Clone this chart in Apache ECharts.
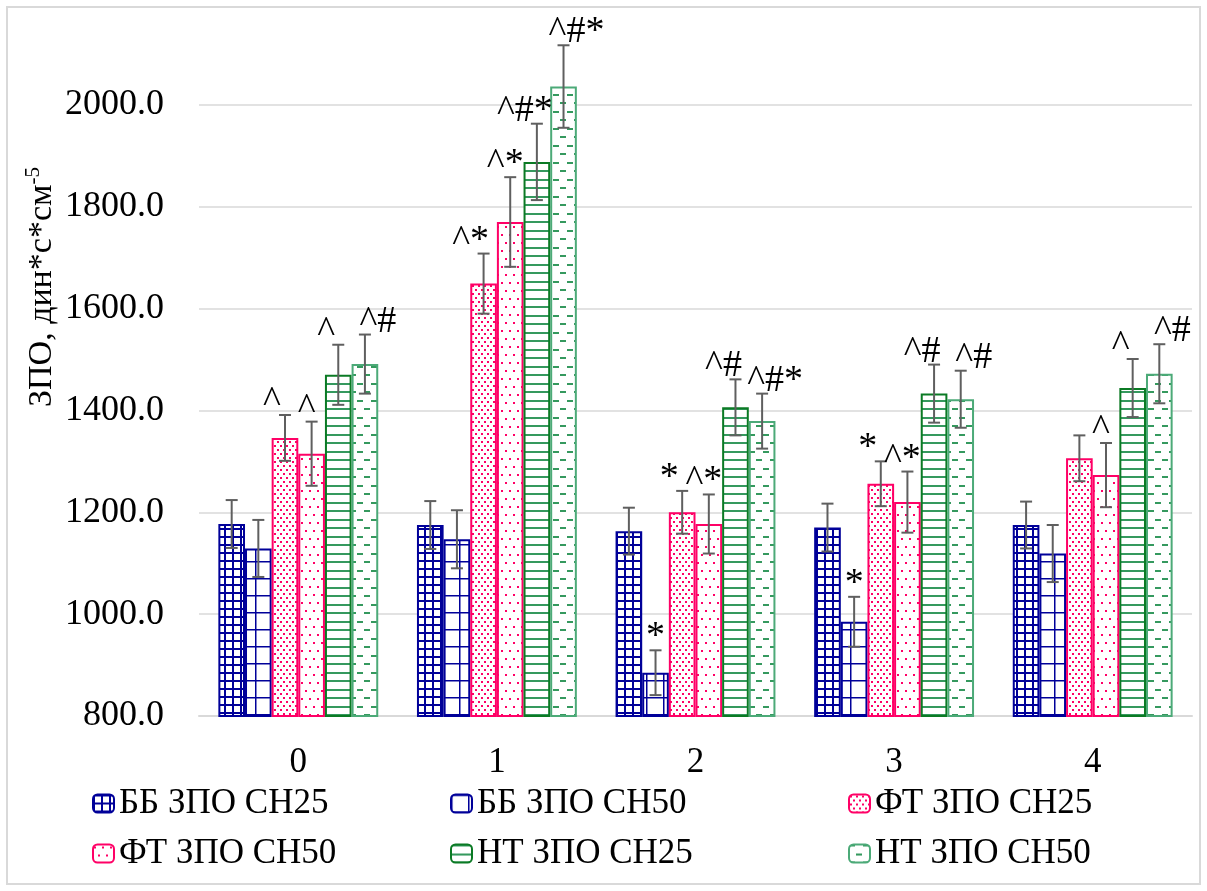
<!DOCTYPE html>
<html>
<head>
<meta charset="utf-8">
<title>ЗПО</title>
<script src="https://cdn.jsdelivr.net/npm/echarts@6/dist/echarts.min.js"></script>
<style>
  html, body { margin: 0; padding: 0; background: #fff; }
  #chart { width: 1207px; height: 891px; }
</style>
</head>
<body>
<div id="chart"></div>
<script>
// Categories and series values (дин*с*см-5)
const categories = ['0', '1', '2', '3', '4'];
const seriesNames = ['ББ ЗПО СН25', 'ББ ЗПО СН50', 'ФТ ЗПО СН25', 'ФТ ЗПО СН50', 'НТ ЗПО СН25', 'НТ ЗПО СН50'];

const bb25 = [1177, 1175, 1163, 1170, 1175];
const bb50 = [1129, 1147, 885, 985, 1119];
const ft25 = [1346, 1649, 1200, 1256, 1306];
const ft50 = [1315, 1770, 1177, 1220, 1273];
const nt25 = [1470, 1888, 1406, 1433, 1444];
const nt50 = [1491, 2036, 1379, 1422, 1472];

// Error bar half-widths
const bb25Err = [47, 47, 46, 47, 46];
const bb50Err = [56, 57, 44, 49, 56];
const ft25Err = [45, 59, 42, 44, 45];
const ft50Err = [63, 88, 58, 60, 63];
const nt25Err = [59, 75, 55, 57, 57];
const nt50Err = [58, 81, 54, 56, 58];

// Significance marks above the error bars
const bb25Marks = ['', '', '', '', ''];
const bb50Marks = ['', '', '*', '*', ''];
const ft25Marks = ['^', '^*', '*', '*', ''];
const ft50Marks = ['^', '^*', '^*', '^*', '^'];
const nt25Marks = ['^', '^#*', '^#', '^#', '^'];
const nt50Marks = ['^#', '^#*', '^#*', '^#', '^#'];

// Axis ticks
const yMin = 800, yMax = 2200, yStep = 200;

const values = [bb25, bb50, ft25, ft50, nt25, nt50];
const errors = [bb25Err, bb50Err, ft25Err, ft50Err, nt25Err, nt50Err];
const marks = [bb25Marks, bb50Marks, ft25Marks, ft50Marks, nt25Marks, nt50Marks];

const FONT = '"Liberation Serif", "Times New Roman", serif';
const CAT_GAP = 0.195;

// Pattern fills
function pattern(w, h, color, draw) {
  const c = document.createElement('canvas');
  c.width = w; c.height = h;
  const ctx = c.getContext('2d');
  ctx.fillStyle = '#ffffff';
  ctx.fillRect(0, 0, w, h);
  ctx.fillStyle = color;
  draw(ctx);
  return { image: c, repeat: 'repeat' };
}
const BLUE = '#000099', PINK = '#ff0066', GREEN_D = '#0b7a24', GREEN_L = '#4caa78', GREEN_LINE = '#35995e';

// Per-series look: fill pattern, outline and horizontal nudge of the marks
const styles = [
  { fill: pattern(8, 8, BLUE, c => { c.fillRect(0, 0, 2, 8); c.fillRect(0, 0, 8, 2); }), border: BLUE, markShift: 0 },
  { fill: pattern(17, 17, BLUE, c => { c.fillRect(0, 0, 1.5, 17); c.fillRect(0, 0, 17, 1.5); }), border: BLUE, markShift: 0 },
  { fill: pattern(6, 8, PINK, c => { c.fillRect(1, 1, 2, 2); c.fillRect(4, 5, 2, 2); }), border: PINK, markShift: -13 },
  { fill: pattern(8, 16, PINK, c => { c.fillRect(1, 2, 2, 2); c.fillRect(5, 10, 2, 2); }), border: PINK, markShift: -5 },
  { fill: pattern(8, 17, GREEN_LINE, c => { c.fillRect(0, 0, 8, 2); c.fillRect(0, 9, 8, 2); }), border: GREEN_D, markShift: -12 },
  { fill: pattern(14, 17, GREEN_LINE, c => { c.fillRect(0, 0, 6, 2); c.fillRect(7, 9, 6, 2); }), border: GREEN_L, markShift: 13 }
];

const barSeries = seriesNames.map((name, i) => ({
  name: name,
  type: 'bar',
  data: values[i],
  barGap: '0%',
  barCategoryGap: (CAT_GAP * 100) + '%',
  itemStyle: { color: styles[i].fill, borderColor: styles[i].border, borderWidth: 2 },
  emphasis: { disabled: true },
  z: 2
}));

// Error bars and marks, placed on each bar through the axis scales
const errData = [];
values.forEach((arr, s) => {
  arr.forEach((v, c) => { errData.push([c, s, v, errors[s][c]]); });
});

const errSeries = {
  type: 'custom',
  data: errData,
  encode: { x: 0, y: 2 },
  z: 5,
  silent: true,
  renderItem: function (params, api) {
    const c = api.value(0), s = api.value(1), v = api.value(2), e = api.value(3);
    const center = api.coord([c, v]);
    const band = api.size([1, 0])[0];
    const total = band * (1 - CAT_GAP);
    const barW = total / seriesNames.length;
    const x = center[0] - total / 2 + (s + 0.5) * barW;
    const yTop = api.coord([c, v + e])[1];
    const yBot = api.coord([c, v - e])[1];
    const cap = 6;
    const ls = { stroke: '#5f5f5f', lineWidth: 2 };
    const children = [
      { type: 'line', shape: { x1: x, y1: yTop, x2: x, y2: yBot }, style: ls },
      { type: 'line', shape: { x1: x - cap, y1: yTop, x2: x + cap, y2: yTop }, style: ls },
      { type: 'line', shape: { x1: x - cap, y1: yBot, x2: x + cap, y2: yBot }, style: ls }
    ];
    const m = marks[s][c];
    if (m) {
      children.push({
        type: 'text',
        x: x + styles[s].markShift, y: yTop + 6,
        style: { text: m, fill: '#000', font: '38px ' + FONT, align: 'center', verticalAlign: 'bottom' }
      });
    }
    return { type: 'group', children: children };
  }
};

function legendColumn(names, left) {
  return {
    data: names,
    orient: 'vertical',
    left: left,
    top: 786,
    padding: 0,
    itemGap: 15,
    itemWidth: 21,
    itemHeight: 18,
    selectedMode: false,
    textStyle: { fontFamily: FONT, fontSize: 35, color: '#000', lineHeight: 34 }
  };
}

const chart = echarts.init(document.getElementById('chart'), null, { renderer: 'canvas' });
chart.setOption({
  animation: false,
  backgroundColor: '#ffffff',
  grid: { left: 199, right: 15, top: 3, bottom: 175, containLabel: false },
  legend: [
    legendColumn([seriesNames[0], seriesNames[3]], 92),
    legendColumn([seriesNames[1], seriesNames[4]], 450),
    legendColumn([seriesNames[2], seriesNames[5]], 848)
  ],
  xAxis: {
    type: 'category',
    data: categories,
    axisLine: { lineStyle: { color: '#d9d9d9', width: 2 } },
    axisTick: { show: false },
    axisLabel: { fontFamily: FONT, fontSize: 35, color: '#000', margin: 29 }
  },
  yAxis: {
    type: 'value',
    min: yMin, max: yMax, interval: yStep,
    axisLine: { show: false },
    axisTick: { show: false },
    axisLabel: {
      fontFamily: FONT, fontSize: 36, color: '#000', margin: 35,
      showMaxLabel: false,
      formatter: v => v.toFixed(1)
    },
    splitLine: { showMaxLine: false, lineStyle: { color: '#d9d9d9', width: 1.5 } }
  },
  graphic: [
    {
      type: 'rect',
      shape: { x: 7, y: 7, width: 1193, height: 877 },
      style: { fill: null, stroke: '#d9d9d9', lineWidth: 2 },
      z: -1, silent: true
    },
    {
      type: 'text',
      x: 42, y: 287,
      rotation: Math.PI / 2,
      style: {
        text: '{a|ЗПО, дин*с*см}{s|-5}',
        align: 'center',
        verticalAlign: 'middle',
        rich: {
          a: { fontFamily: FONT, fontSize: 34, fill: '#000', lineHeight: 38 },
          s: { fontFamily: FONT, fontSize: 21, fill: '#000', verticalAlign: 'top', lineHeight: 21 }
        }
      }
    }
  ],
  series: barSeries.concat([errSeries])
});
</script>
</body>
</html>
